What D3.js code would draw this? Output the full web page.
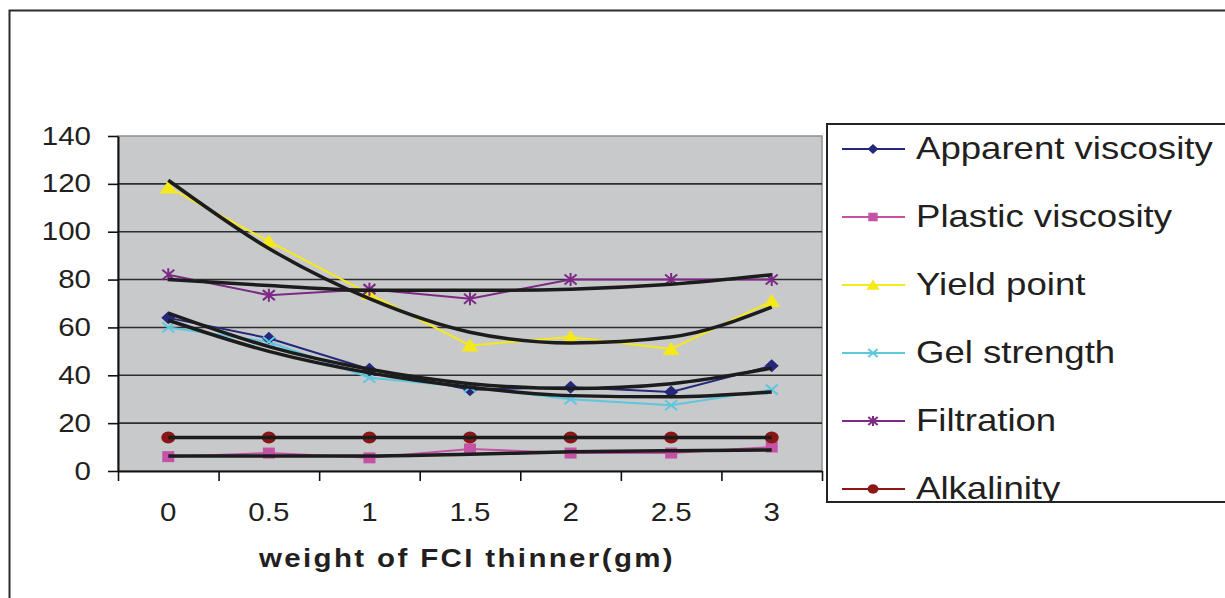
<!DOCTYPE html>
<html><head><meta charset="utf-8">
<script src="https://cdn.jsdelivr.net/npm/d3@7"></script>
<style>
html,body{margin:0;padding:0;background:#fff;}
svg{display:block;}
text{font-family:"Liberation Sans",Arial,sans-serif;fill:#231f20;}
</style></head>
<body>
<svg id="chart" width="1225" height="598"></svg>
<script>
// ---- data ----
const weights = ["0","0.5","1","1.5","2","2.5","3"];
const yTicks = [0,20,40,60,80,100,120,140];
const seriesNames = ["Apparent viscosity","Plastic viscosity","Yield point","Gel strength","Filtration","Alkalinity"];
const apparentViscosity = [64, 55.5, 42.5, 34, 35, 33, 44];
const plasticViscosity  = [6, 7.5, 5.5, 9.2, 7.5, 7.5, 10];
const yieldPoint        = [118.5, 96, 74, 52.5, 56, 51, 71];
const gelStrength       = [60, 54, 39, 35, 30, 27.5, 34];
const filtration        = [82, 73.5, 76, 72, 80, 80, 80];
const alkalinity        = [14, 14, 14, 14, 14, 14, 14];
// trend lines
const trendApparent  = [66, 52, 42.5, 36.5, 34.5, 36.5, 43];
const trendPlastic   = [6.3, 6.3, 6.3, 7, 8, 8.5, 8.8];
const trendYield     = [121.5, 93, 72, 58, 53.5, 56, 68.5];
const trendGel       = [63, 50, 41, 35, 31.5, 31, 33];
const trendFilt      = [80, 77.5, 75.5, 75.5, 76, 78, 82];
const trendAlk       = [14, 14, 14, 14, 14, 14, 14];
const xTitle = "weight of FCI thinner(gm)";

const S = 1.18; // horizontal text stretch seen in the reference

const svg = d3.select("#chart");
const L = 118, R = 822, T = 136, B = 471;

// outer frame
svg.append("rect").attr("x",9.5).attr("y",10.5).attr("width",1400).attr("height",800)
  .attr("fill","#fff").attr("stroke","#2b2b2b").attr("stroke-width",2);

const x = d3.scaleBand().domain(weights).range([L,R]).paddingInner(0).paddingOuter(0);
const xEdge = d3.scaleLinear().domain([0,weights.length]).range([L,R]);
const y = d3.scaleLinear().domain([0,140]).range([B,T]);
const cx = d => x(d) + x.bandwidth()/2;

// plot area
svg.append("rect").attr("x",L).attr("y",T).attr("width",R-L).attr("height",B-T)
  .attr("fill","#c8c9cb").attr("stroke","#8f8f8f").attr("stroke-width",1.5);

// gridlines
svg.append("g").selectAll("line").data(yTicks.filter(v=>v>0&&v<140)).join("line")
  .attr("x1",L).attr("x2",R).attr("y1",d=>y(d)).attr("y2",d=>y(d))
  .attr("stroke","#2e2e2e").attr("stroke-width",1.6);

function stretch(sel){
  sel.each(function(){
    const t = d3.select(this);
    const tx = +t.attr("x") || 0;
    t.attr("x",0).attr("transform",`translate(${tx},0) scale(${S},1)`);
  });
}

// y axis
const gy = svg.append("g").attr("transform",`translate(${L},0)`)
  .call(d3.axisLeft(y).tickValues(yTicks).tickSize(10).tickPadding(17).tickSizeOuter(0));
gy.select(".domain").attr("stroke","#111").attr("stroke-width",2);
gy.selectAll(".tick line").attr("stroke","#111").attr("stroke-width",1.6);
gy.selectAll(".tick text").attr("font-size",25).attr("fill","#231f20")
  .attr("font-family","Liberation Sans, Arial, sans-serif").call(stretch);

// x axis: tick marks at category boundaries
const gxt = svg.append("g").attr("transform",`translate(0,${B})`)
  .call(d3.axisBottom(xEdge).ticks(weights.length).tickSize(10).tickFormat("").tickSizeOuter(0));
gxt.select(".domain").attr("stroke","#111").attr("stroke-width",2);
gxt.selectAll(".tick line").attr("stroke","#111").attr("stroke-width",1.6);
// x axis labels at category centres
const gx = svg.append("g").attr("transform",`translate(0,${B})`)
  .call(d3.axisBottom(x).tickSize(0).tickPadding(32));
gx.select(".domain").remove();
gx.selectAll(".tick text").attr("font-size",25).attr("fill","#231f20")
  .attr("font-family","Liberation Sans, Arial, sans-serif").call(stretch);

// axis title
svg.append("text").attr("x",0).attr("y",567)
  .attr("transform",`translate(467,0) scale(${S},1)`)
  .attr("text-anchor","middle").attr("font-size",25).attr("font-weight","bold")
  .attr("letter-spacing",2).text(xTitle);

// marker shapes
function marker(g, type, px, py, k, color){
  const s = k; // scale
  if(type==="diamond"){
    g.append("path").attr("d",`M${px-7*s},${py}L${px},${py-6.5*s}L${px+7*s},${py}L${px},${py+6.5*s}Z`).attr("fill",color);
  } else if(type==="square"){
    g.append("rect").attr("x",px-6*s).attr("y",py-5.5*s).attr("width",12*s).attr("height",11*s).attr("fill",color);
  } else if(type==="triangle"){
    g.append("path").attr("d",`M${px-8.5*s},${py+6*s}L${px},${py-7*s}L${px+8.5*s},${py+6*s}Z`).attr("fill",color);
  } else if(type==="x"){
    g.append("path").attr("d",`M${px-6*s},${py-5*s}L${px+6*s},${py+5*s}M${px-6*s},${py+5*s}L${px+6*s},${py-5*s}`)
      .attr("stroke",color).attr("stroke-width",2).attr("fill","none");
  } else if(type==="asterisk"){
    g.append("path").attr("d",`M${px-6*s},${py-5*s}L${px+6*s},${py+5*s}M${px-6*s},${py+5*s}L${px+6*s},${py-5*s}M${px},${py-6.5*s}L${px},${py+6.5*s}`)
      .attr("stroke",color).attr("stroke-width",2).attr("fill","none");
  } else if(type==="circle"){
    g.append("ellipse").attr("cx",px).attr("cy",py).attr("rx",7*s).attr("ry",6*s).attr("fill",color);
  }
}

const series = [
  {name:seriesNames[0], values:apparentViscosity, trend:trendApparent, color:"#25287a", marker:"diamond"},
  {name:seriesNames[1], values:plasticViscosity,  trend:trendPlastic,  color:"#c452a5", marker:"square"},
  {name:seriesNames[2], values:yieldPoint,        trend:trendYield,    color:"#f5e91a", marker:"triangle"},
  {name:seriesNames[3], values:gelStrength,       trend:trendGel,      color:"#5ec7de", marker:"x"},
  {name:seriesNames[4], values:filtration,        trend:trendFilt,     color:"#7d2a86", marker:"asterisk"},
  {name:seriesNames[5], values:alkalinity,        trend:trendAlk,      color:"#8a1616", marker:"circle"}
];

const line = d3.line().x((d,i)=>cx(weights[i])).y(d=>y(d));
const gSeries = svg.append("g");
series.forEach(s=>{
  gSeries.append("path").attr("d",line(s.values)).attr("fill","none")
    .attr("stroke",s.color).attr("stroke-width",2);
});
series.forEach(s=>{
  const g = gSeries.append("g");
  s.values.forEach((v,i)=>marker(g, s.marker, cx(weights[i]), y(v), 1, s.color));
});
// trend lines on top
const trendLine = d3.line().x((d,i)=>cx(weights[i])).y(d=>y(d)).curve(d3.curveMonotoneX);
series.forEach(s=>{
  gSeries.append("path").attr("d",trendLine(s.trend)).attr("fill","none")
    .attr("stroke","#1c1c1c").attr("stroke-width",3.5).attr("stroke-linejoin","round");
});

// legend
const LX = 827, LY = 124, LB = 502;
svg.append("defs").append("clipPath").attr("id","legclip")
  .append("rect").attr("x",LX).attr("y",LY).attr("width",500).attr("height",LB-LY);
svg.append("rect").attr("x",LX).attr("y",LY).attr("width",500).attr("height",LB-LY)
  .attr("fill","#fff").attr("stroke","#232323").attr("stroke-width",2);
const leg = svg.append("g").attr("clip-path","url(#legclip)");
const rowY = d3.scalePoint().domain(seriesNames).range([149,489]);
series.forEach(s=>{
  const ry = rowY(s.name);
  leg.append("line").attr("x1",842).attr("x2",905).attr("y1",ry).attr("y2",ry)
    .attr("stroke",s.color).attr("stroke-width",2);
  marker(leg, s.marker, 873, ry, 0.78, s.color);
  leg.append("text").attr("x",0).attr("y",ry+10)
    .attr("transform",`translate(916,0) scale(${S},1)`)
    .attr("font-size",31).text(s.name);
});
</script>
</body></html>
